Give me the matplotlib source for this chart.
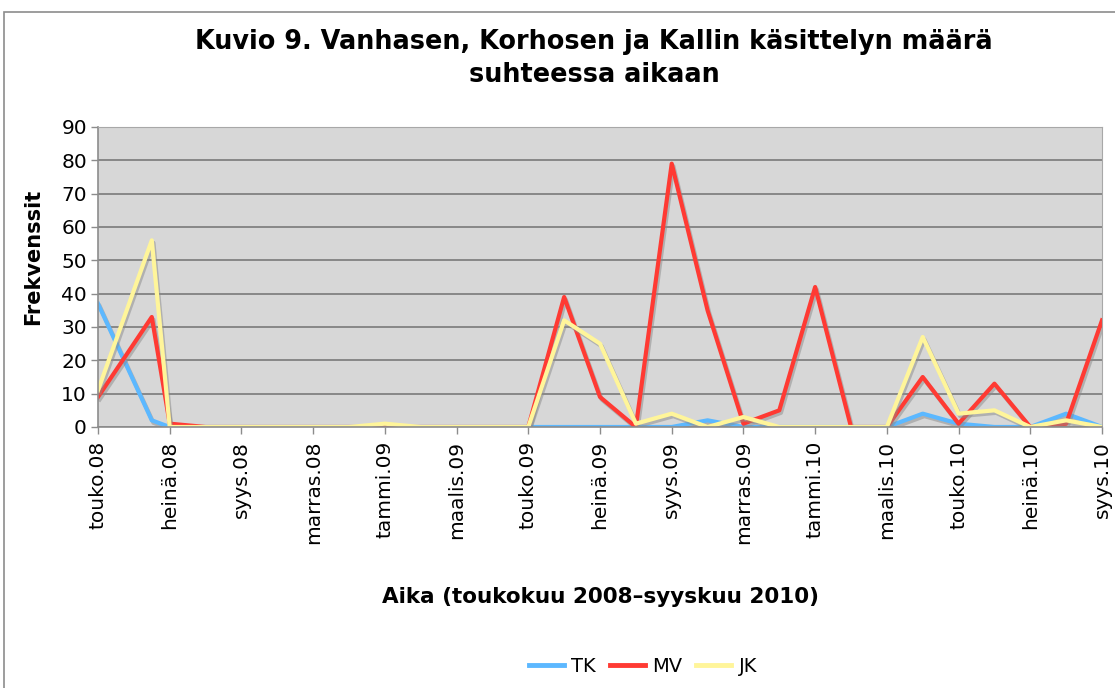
import matplotlib
matplotlib.use('Agg')
import matplotlib.pyplot as plt
import matplotlib.patheffects as pe
from matplotlib.patches import Rectangle
from matplotlib.lines import Line2D

# kuukaudet toukokuusta 2008 alkaen (0 = touko.08)
kuukausi = [0, 1.5, 2, 3, 4, 5, 6, 7, 8, 9, 10, 11, 12, 13, 14, 15, 16,
            17, 18, 19, 20, 21, 22, 23, 24, 25, 26, 27, 28]

TK = [37, 2, 0, 0, 0, 0, 0, 0, 0, 0, 0, 0, 0, 0, 0, 0, 0,
      2, 0, 0, 0, 0, 0, 4, 1, 0, 0, 4, 0]
MV = [9, 33, 1, 0, 0, 0, 0, 0, 0, 0, 0, 0, 0, 39, 9, 0, 79,
      35, 1, 5, 42, 0, 0, 15, 1, 13, 0, 1, 32]
JK = [11, 56, 0, 0, 0, 0, 0, 0, 1, 0, 0, 0, 0, 32, 25, 1, 4,
      0, 3, 0, 0, 0, 0, 27, 4, 5, 0, 2, 0]

tick_kk = [0, 2, 4, 6, 8, 10, 12, 14, 16, 18, 20, 22, 24, 26, 28]
tick_nimet = ['touko.08', 'heinä.08', 'syys.08', 'marras.08', 'tammi.09',
              'maalis.09', 'touko.09', 'heinä.09', 'syys.09', 'marras.09',
              'tammi.10', 'maalis.10', 'touko.10', 'heinä.10', 'syys.10']

sarjat = ['TK', 'MV', 'JK']
varit = ['#5cb8ff', '#ff3a33', '#fff59a']

fig = plt.figure(figsize=(11.15, 6.88), dpi=100)

# harmaa kehys koko kuvion ympärillä
fig.patches.append(Rectangle((4 / 1115, -0.01), 1.02, 1 - 12 / 688 + 0.01,
                             transform=fig.transFigure, fill=False,
                             edgecolor='#8c8c8c', linewidth=1.2))

ax = fig.add_axes([98 / 1115, 1 - 427 / 688, 1004 / 1115, 300 / 688])
ax.set_facecolor('#d7d7d7')

varjo = [pe.SimpleLineShadow(offset=(1.2, -1.8), shadow_color='#8a8a8a', alpha=0.5),
         pe.Normal()]

for arvot, vari in zip([TK, MV, JK], varit):
    ax.plot(kuukausi, arvot, color=vari, lw=3, path_effects=varjo)

ax.set_xlim(0, 28)
ax.set_ylim(0, 90)
ax.set_yticks(range(0, 91, 10))
ax.set_xticks(tick_kk)
ax.set_xticklabels(tick_nimet, rotation=90, va='top', ha='center')
ax.tick_params(axis='both', labelsize=14.5, color='#8c8c8c', length=5,
               direction='out', width=1)
ax.tick_params(axis='x', pad=5)
ax.tick_params(axis='y', pad=3)
ax.yaxis.grid(True, color='#7a7a7a', linewidth=1.2)
ax.set_axisbelow(True)
for s in ['top', 'right']:
    ax.spines[s].set_color('#a8a8a8')
for s in ['left', 'bottom']:
    ax.spines[s].set_color('#8c8c8c')
    ax.spines[s].set_linewidth(1.2)

fig.text(33 / 1115, 1 - 257 / 688, 'Frekvenssit', rotation=90,
         ha='center', va='center', fontsize=15, fontweight='bold')

fig.text(594 / 1115, 1 - 42 / 688, 'Kuvio 9. Vanhasen, Korhosen ja Kallin käsittelyn määrä',
         ha='center', va='center', fontsize=18.4, fontweight='bold')
fig.text(594 / 1115, 1 - 75 / 688, 'suhteessa aikaan',
         ha='center', va='center', fontsize=18.4, fontweight='bold')
fig.text(600 / 1115, 1 - 597 / 688, 'Aika (toukokuu 2008–syyskuu 2010)',
         ha='center', va='center', fontsize=15.5, fontweight='bold')

kahvat = [Line2D([0], [0], color=v, lw=3.5) for v in varit]
fig.legend(kahvat, sarjat, loc='center', bbox_to_anchor=(643 / 1115, 1 - 666 / 688),
           ncol=3, frameon=False, fontsize=14, handlelength=1.8,
           columnspacing=0.7, handletextpad=0.4)

fig.savefig('out.png', dpi=100)
